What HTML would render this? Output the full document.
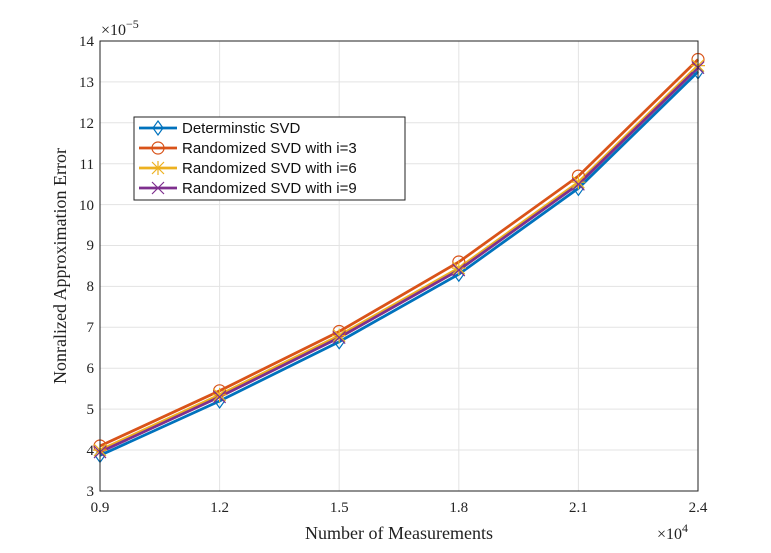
<!DOCTYPE html>
<html><head><style>body{margin:0;background:#fff}svg{display:block}</style></head><body>
<svg width="771" height="553" xmlns="http://www.w3.org/2000/svg">
<defs>
<g id="ast"><path d="M-6,-6l12,12M6,-6l-12,12M0,-7v14M-7,0h14"/></g>
<g id="xx"><path d="M-6,-6l12,12M6,-6l-12,12"/></g>
</defs>
<rect width="771" height="553" fill="#fff"/>
<g stroke="#e3e3e3" stroke-width="1">
<line x1="219.6" y1="41" x2="219.6" y2="491"/><line x1="339.2" y1="41" x2="339.2" y2="491"/><line x1="458.8" y1="41" x2="458.8" y2="491"/><line x1="578.4" y1="41" x2="578.4" y2="491"/>
<line x1="100" y1="81.9" x2="698" y2="81.9"/><line x1="100" y1="122.8" x2="698" y2="122.8"/><line x1="100" y1="163.7" x2="698" y2="163.7"/><line x1="100" y1="204.6" x2="698" y2="204.6"/><line x1="100" y1="245.5" x2="698" y2="245.5"/><line x1="100" y1="286.4" x2="698" y2="286.4"/><line x1="100" y1="327.3" x2="698" y2="327.3"/><line x1="100" y1="368.2" x2="698" y2="368.2"/><line x1="100" y1="409.1" x2="698" y2="409.1"/><line x1="100" y1="450" x2="698" y2="450"/>
</g>
<g fill="none" stroke-width="2.8">
<polyline stroke="#0072BD" points="100,455.4 219.6,401 339.2,341.7 458.8,274.2 578.4,188.3 698,71.8"/>
<polyline stroke="#D95319" points="100,446 219.6,390.8 339.2,331.5 458.8,262 578.4,176.1 698,59.5"/>
<polyline stroke="#EDB120" points="100,450.1 219.6,394.9 339.2,335.6 458.8,268.1 578.4,182.2 698,65.6"/>
<polyline stroke="#7E2F8E" points="100,452.1 219.6,396.9 339.2,337.6 458.8,270.1 578.4,184.3 698,67.7"/>
</g>
<g fill="none" stroke-width="1.2">
<g stroke="#0072BD">
<path d="M100,448.4l5,7-5,7-5-7z"/><path d="M219.6,394l5,7-5,7-5-7z"/><path d="M339.2,334.7l5,7-5,7-5-7z"/><path d="M458.8,267.2l5,7-5,7-5-7z"/><path d="M578.4,181.3l5,7-5,7-5-7z"/><path d="M698,64.8l5,7-5,7-5-7z"/>
</g>
<g stroke="#D95319">
<circle cx="100" cy="446" r="6"/><circle cx="219.6" cy="390.8" r="6"/><circle cx="339.2" cy="331.5" r="6"/><circle cx="458.8" cy="262" r="6"/><circle cx="578.4" cy="176.1" r="6"/><circle cx="698" cy="59.5" r="6"/>
</g>
<g stroke="#EDB120">
<use href="#ast" x="100" y="450.1"/><use href="#ast" x="219.6" y="394.9"/><use href="#ast" x="339.2" y="335.6"/><use href="#ast" x="458.8" y="268.1"/><use href="#ast" x="578.4" y="182.2"/><use href="#ast" x="698" y="65.6"/>
</g>
<g stroke="#7E2F8E">
<use href="#xx" x="100" y="452.1"/><use href="#xx" x="219.6" y="396.9"/><use href="#xx" x="339.2" y="337.6"/><use href="#xx" x="458.8" y="270.1"/><use href="#xx" x="578.4" y="184.3"/><use href="#xx" x="698" y="67.7"/>
</g>
</g>
<rect x="100" y="41" width="598" height="450" fill="none" stroke="#222" stroke-width="1"/>
<g font-family="Liberation Serif, serif" font-size="15" fill="#222" text-anchor="end">
<text x="94" y="46">14</text><text x="94" y="87">13</text><text x="94" y="128">12</text><text x="94" y="169">11</text><text x="94" y="210">10</text><text x="94" y="250">9</text><text x="94" y="291">8</text><text x="94" y="332">7</text><text x="94" y="373">6</text><text x="94" y="414">5</text><text x="94" y="455">4</text><text x="94" y="496">3</text>
</g>
<g font-family="Liberation Serif, serif" font-size="15" fill="#222" text-anchor="middle">
<text x="100" y="512">0.9</text><text x="219.6" y="512">1.2</text><text x="339.2" y="512">1.5</text><text x="458.8" y="512">1.8</text><text x="578.4" y="512">2.1</text><text x="698" y="512">2.4</text>
</g>
<text x="101" y="35" font-family="Liberation Serif, serif" font-size="16" fill="#222">×10<tspan font-size="12" dy="-7">−5</tspan></text>
<text x="657" y="539" font-family="Liberation Serif, serif" font-size="16" fill="#222">×10<tspan font-size="12" dy="-7">4</tspan></text>
<text x="399" y="539" font-family="Liberation Serif, serif" font-size="18" fill="#222" text-anchor="middle">Number of Measurements</text>
<text transform="translate(66,266) rotate(-90)" font-family="Liberation Serif, serif" font-size="18" fill="#222" text-anchor="middle">Nonralized Approximation Error</text>
<rect x="134" y="117" width="271" height="83" fill="#fff" stroke="#222" stroke-width="1"/>
<g stroke-width="2.8">
<line x1="139" y1="128" x2="177" y2="128" stroke="#0072BD"/>
<line x1="139" y1="148" x2="177" y2="148" stroke="#D95319"/>
<line x1="139" y1="168" x2="177" y2="168" stroke="#EDB120"/>
<line x1="139" y1="188" x2="177" y2="188" stroke="#7E2F8E"/>
</g>
<g fill="none" stroke-width="1.2">
<path d="M158,121l5,7-5,7-5-7z" stroke="#0072BD"/>
<circle cx="158" cy="148" r="6" stroke="#D95319"/>
<path d="M152,162l12,12M164,162l-12,12M158,161v14M151,168h14" stroke="#EDB120"/>
<path d="M152,182l12,12M164,182l-12,12" stroke="#7E2F8E"/>
</g>
<g font-family="Liberation Sans, sans-serif" font-size="15" fill="#111">
<text x="182" y="133">Determinstic SVD</text>
<text x="182" y="153">Randomized SVD with i=3</text>
<text x="182" y="173">Randomized SVD with i=6</text>
<text x="182" y="193">Randomized SVD with i=9</text>
</g>
</svg>
</body></html>
